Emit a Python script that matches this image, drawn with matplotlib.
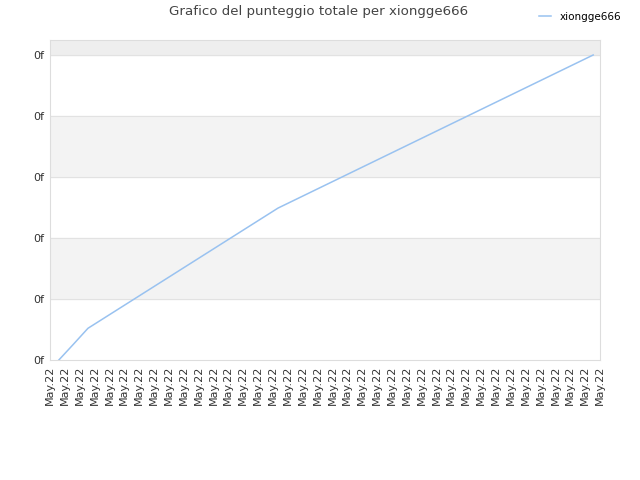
import matplotlib
matplotlib.use('Agg')
import matplotlib.pyplot as plt

# Data (x in tick units, y in tick-step units)
player = 'xiongge666'
x_vals = [0.6, 1.55, 2.56, 15.34, 36.54]
y_vals = [0.0, 0.25, 0.52, 2.49, 5.0]
x_labels = ['May.22'] * 38
y_ticks = [0, 1, 2, 3, 4, 5]
y_labels = ['0f'] * 6

fig = plt.figure(figsize=(6.4, 4.8), dpi=100)
ax = fig.add_axes([0.078, 0.25, 0.8595, 0.6667])

# Alternating bands
ax.axhspan(1, 2, color='#f3f3f3', zorder=0)
ax.axhspan(3, 4, color='#f3f3f3', zorder=0)
ax.axhspan(5, 5.25, color='#eeeeee', zorder=0)
for yt in y_ticks[1:]:
    ax.axhline(yt, color='#e2e2e2', lw=0.8, zorder=1)

ax.plot(x_vals, y_vals, color='#99c2f0', lw=1.1, label=player, zorder=3)

ax.set_xlim(0, len(x_labels) - 1)
ax.set_ylim(0, 5.246)
ax.set_xticks(range(len(x_labels)))
ax.set_xticklabels(x_labels, rotation=90, fontsize=8, color='#333333')
ax.set_yticks(y_ticks)
ax.set_yticklabels(y_labels, fontsize=8, color='#333333')
ax.tick_params(length=0, pad=4)

for s in ax.spines.values():
    s.set_color('#dddddd')

fig.suptitle('Grafico del punteggio totale per ' + player, x=0.497, y=0.99,
             fontsize=9.6, color='#444444')
fig.legend(loc='upper right', bbox_to_anchor=(0.985, 0.995), frameon=False,
           fontsize=7.5, handlelength=1.2)

fig.savefig('out.png', dpi=100)
